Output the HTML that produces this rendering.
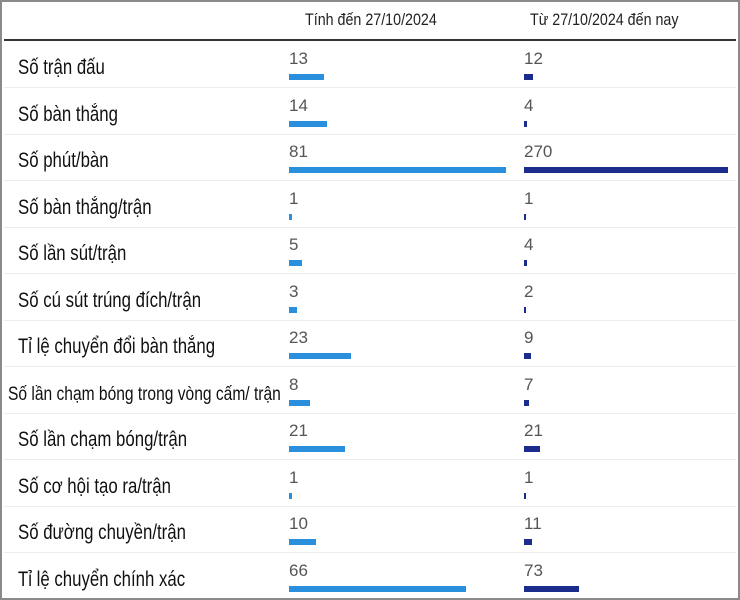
<!DOCTYPE html><html><head><meta charset="utf-8"><style>
body{margin:0;width:740px;height:600px;background:#fff;position:relative;overflow:hidden;font-family:"Liberation Sans",sans-serif}
.frame{position:absolute;left:0;top:0;width:736px;height:596px;border:2px solid #8a8a8a}
.h{position:absolute;top:10px;font-size:17px;color:#222;transform:scaleX(0.84);transform-origin:0 0;white-space:nowrap}
.hl{position:absolute;left:4px;width:732px;top:39px;height:2px;background:#333}
.sep{position:absolute;left:4px;width:732px;height:1px;background:#ececec}
.lab{position:absolute;left:18px;font-size:21px;color:#111;transform:scaleX(0.8);transform-origin:0 0;white-space:nowrap}
.num{position:absolute;font-size:17px;color:#555}
.b1{position:absolute;left:289px;height:6px;background:#2a8fdc}
.b2{position:absolute;left:524px;height:6px;background:#1c2c8c}
</style></head><body>
<div class="frame"></div>
<div class="h" style="left:305px">Tính đến 27/10/2024</div>
<div class="h" style="left:530px">Từ 27/10/2024 đến nay</div>
<div class="hl"></div>
<div id="rows"></div>
<script>
var d=[["Số trận đấu",13,12],["Số bàn thắng",14,4],["Số phút/bàn",81,270],["Số bàn thắng/trận",1,1],["Số lần sút/trận",5,4],["Số cú sút trúng đích/trận",3,2],["Tỉ lệ chuyển đổi bàn thắng",23,9],["Số lần chạm bóng trong vòng cấm/ trận",8,7],["Số lần chạm bóng/trận",21,21],["Số cơ hội tạo ra/trận",1,1],["Số đường chuyền/trận",10,11],["Tỉ lệ chuyển chính xác",66,73]];
var h="";
d.forEach(function(r,i){var y=41+46.5*i;
if(i==7)h+='<div class="lab" style="left:8px;top:'+(y+17)+'px;font-size:19px;transform:scaleX(0.82)">'+r[0]+'</div>';
else h+='<div class="lab" style="top:'+(y+15)+'px">'+r[0]+'</div>';
h+='<div class="num" style="left:289px;top:'+(y+8)+'px">'+r[1]+'</div>';
h+='<div class="num" style="left:524px;top:'+(y+8)+'px">'+r[2]+'</div>';
h+='<div class="b1" style="top:'+(y+33)+'px;width:'+Math.max(2,r[1]*2.68)+'px"></div>';
h+='<div class="b2" style="top:'+(y+33)+'px;width:'+Math.max(1.5,r[2]*0.756)+'px"></div>';
if(i<11)h+='<div class="sep" style="top:'+(y+46)+'px"></div>';});
document.getElementById("rows").innerHTML=h;
</script>
</body></html>
